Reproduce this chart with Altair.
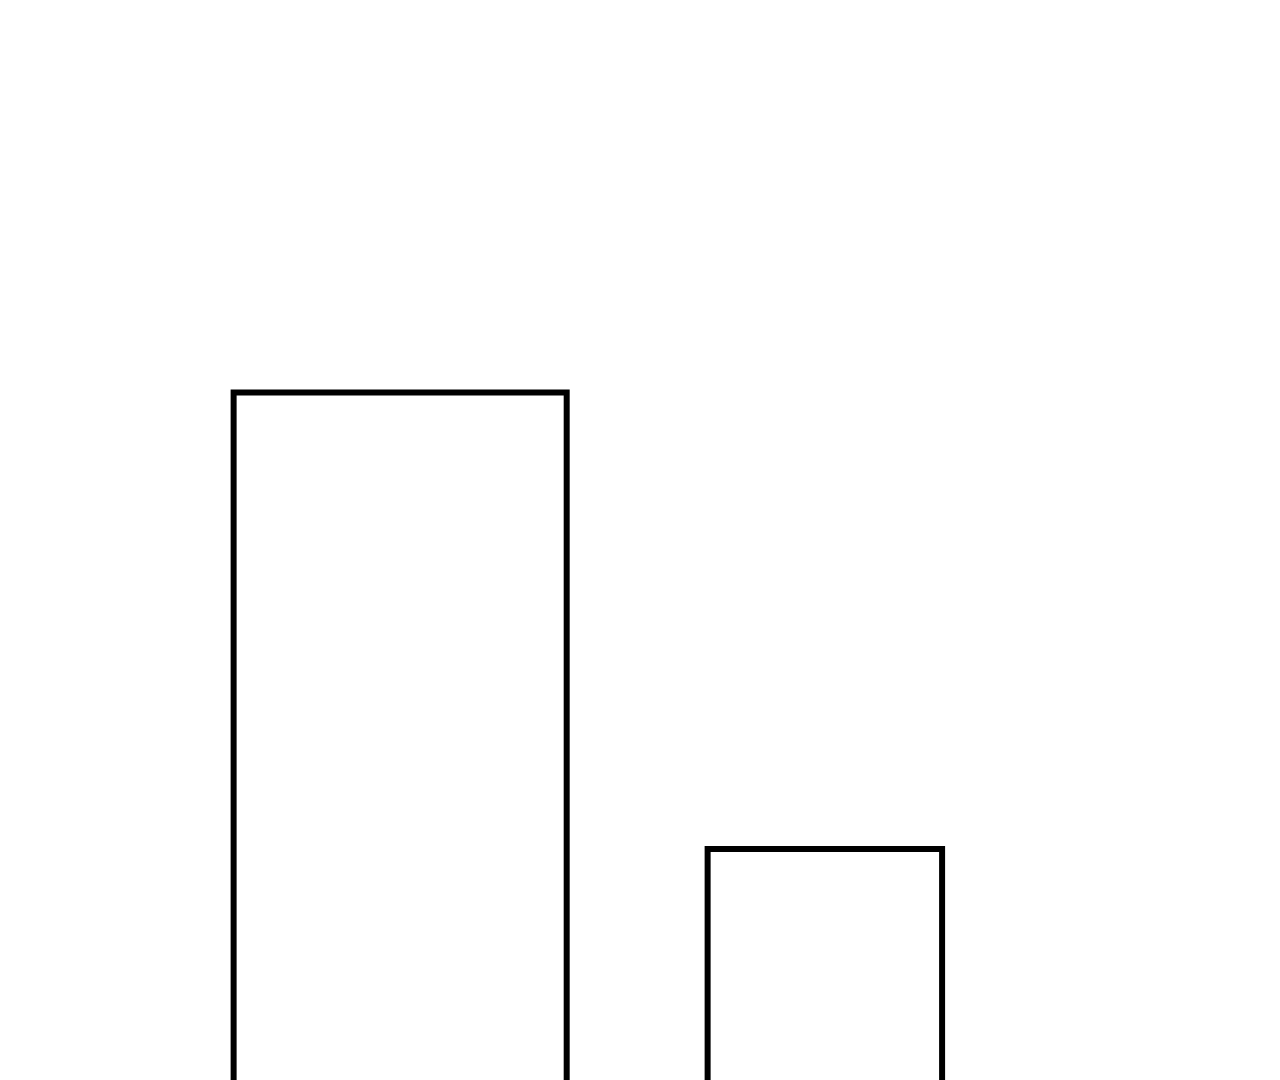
import altair as alt
import pandas as pd

# Data (abstract units)
labels = ["A", "B"]
x_start = [17.85, 55.35]
x_end = [44.2, 73.9]
values = [65.05, 23.55]

df = pd.DataFrame({"label": labels, "x0": x_start, "x1": x_end, "v": values, "base": [0, 0]})

chart = (
    alt.Chart(df)
    .mark_rect(fill="white", stroke="black", strokeWidth=6)
    .encode(
        x=alt.X("x0:Q", scale=alt.Scale(domain=[0, 100], nice=False, zero=False), axis=None),
        x2="x1:Q",
        y=alt.Y("v:Q", scale=alt.Scale(domain=[0, 100], nice=False), axis=None),
        y2="base:Q",
    )
    .properties(width=1264, height=1100, padding=0, background="white")
    .configure_view(strokeWidth=0)
)

chart.save("out.html", embed_options={"renderer": "svg", "actions": False})
